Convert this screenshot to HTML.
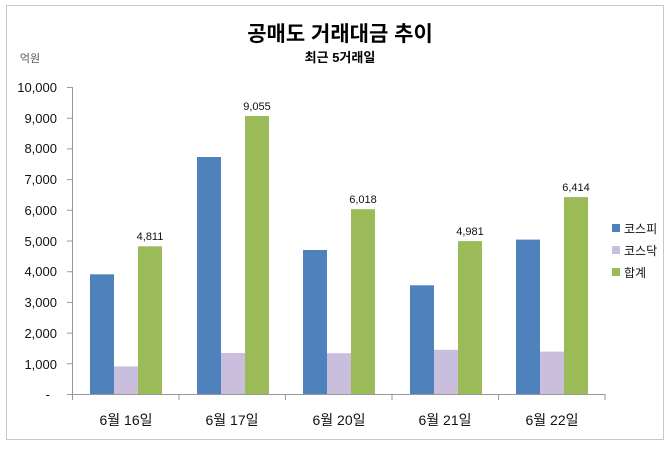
<!DOCTYPE html><html><head><meta charset="utf-8"><style>body{margin:0;background:#fff}</style></head><body>
<svg width="670" height="448" xmlns="http://www.w3.org/2000/svg" font-family="Liberation Sans, Noto Sans CJK KR, sans-serif">
<rect x="6.5" y="5.5" width="657" height="434" fill="#fff" stroke="#c8c8c8"/>
<text x="340" y="41" text-anchor="middle" font-size="21" font-weight="bold">공매도 거래대금 추이</text>
<text x="340" y="62" text-anchor="middle" font-size="13" font-weight="bold">최근 5거래일</text>
<text x="30" y="62" text-anchor="middle" font-size="11" fill="#555">억원</text>
<g font-size="13" text-anchor="end" fill="#111">
<text x="57" y="92">10,000</text><text x="57" y="123">9,000</text><text x="57" y="153">8,000</text><text x="57" y="184">7,000</text><text x="57" y="215">6,000</text><text x="57" y="246">5,000</text><text x="57" y="276">4,000</text><text x="57" y="307">3,000</text><text x="57" y="338">2,000</text><text x="57" y="369">1,000</text><text x="50" y="399">-</text>
</g>
<g stroke="#999"><line x1="72.5" y1="87" x2="72.5" y2="395"/><line x1="67" y1="394.5" x2="605" y2="394.5"/>
<line x1="67" y1="87.5" x2="72" y2="87.5"/>
<path d="M67 118.2h5M67 148.9h5M67 179.6h5M67 210.3h5M67 241h5M67 271.7h5M67 302.4h5M67 333.1h5M67 363.8h5"/>
<path d="M72.5 394v6M179 394v6M285.5 394v6M392 394v6M498.5 394v6M605 394v6"/></g>
<g>
<rect x="90" y="274.3" width="24" height="119.7" fill="#4f81bd"/><rect x="114" y="366.4" width="24" height="27.6" fill="#c9bfdc"/><rect x="138" y="246.3" width="24" height="147.7" fill="#9bbb59"/>
<rect x="197" y="157" width="24" height="237" fill="#4f81bd"/><rect x="221" y="353" width="24" height="41" fill="#c9bfdc"/><rect x="245" y="116" width="24" height="278" fill="#9bbb59"/>
<rect x="303" y="250" width="24" height="144" fill="#4f81bd"/><rect x="327" y="353.2" width="24" height="40.8" fill="#c9bfdc"/><rect x="351" y="209.2" width="24" height="184.8" fill="#9bbb59"/>
<rect x="410" y="285.3" width="24" height="108.7" fill="#4f81bd"/><rect x="434" y="349.8" width="24" height="44.2" fill="#c9bfdc"/><rect x="458" y="241.1" width="24" height="152.9" fill="#9bbb59"/>
<rect x="516" y="239.6" width="24" height="154.4" fill="#4f81bd"/><rect x="540" y="351.6" width="24" height="42.4" fill="#c9bfdc"/><rect x="564" y="197.1" width="24" height="196.9" fill="#9bbb59"/>
</g>
<g font-size="11" text-anchor="middle" fill="#111">
<text x="150" y="240">4,811</text><text x="257" y="110">9,055</text><text x="363" y="203">6,018</text><text x="470" y="235">4,981</text><text x="576" y="191">6,414</text>
</g>
<g font-size="14" text-anchor="middle" fill="#111">
<text x="126" y="425">6월 16일</text><text x="232" y="425">6월 17일</text><text x="339" y="425">6월 20일</text><text x="445" y="425">6월 21일</text><text x="552" y="425">6월 22일</text>
</g>
<rect x="612" y="224" width="8" height="8" fill="#4f81bd"/><rect x="612" y="246" width="8" height="8" fill="#c9bfdc"/><rect x="612" y="268" width="8" height="8" fill="#9bbb59"/>
<g font-size="12" fill="#111"><text x="624" y="233">코스피</text><text x="624" y="255">코스닥</text><text x="624" y="277">합계</text></g>
</svg>
</body></html>
